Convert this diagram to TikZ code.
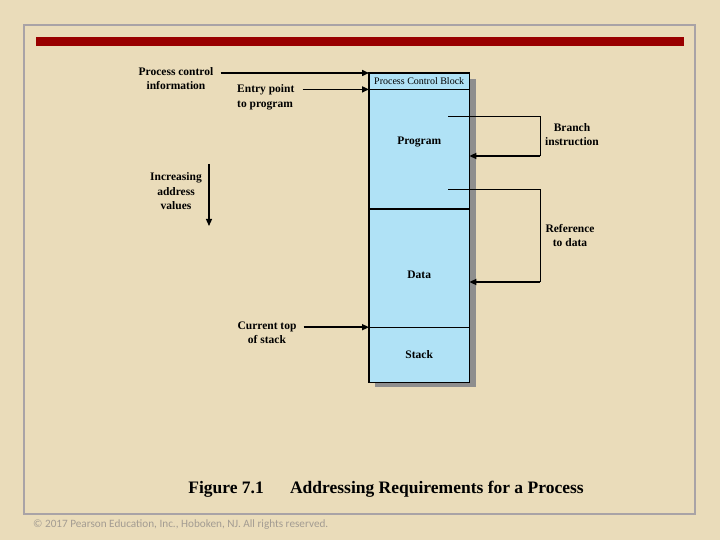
\documentclass[tikz,border=0pt]{standalone}
\usepackage{fontspec}
\setmainfont{Liberation Serif}
\newfontfamily\notefont{Carlito}
\usetikzlibrary{arrows.meta}
\definecolor{paper-bg}{HTML}{EADCBA}
\definecolor{frame-gray}{HTML}{A9A3A6}
\definecolor{title-red}{HTML}{990000}
\definecolor{mem-blue}{HTML}{B0E2F6}
\definecolor{shadow-gray}{HTML}{8E8E8E}
\definecolor{note-gray}{HTML}{A39C92}

\begin{document}
\begin{tikzpicture}[x=1pt, y=-1pt,
        every node/.style={font=\fontsize{11.5}{14.5}\selectfont\bfseries},
        lbl/.style={align=center, inner sep=0pt},
        seg/.style={draw=black, fill=mem-blue, minimum width=100pt,
            inner sep=0pt, anchor=north west},
        ptr/.style={-{Triangle[length=7pt,width=6pt]}, line width=1.5pt},
        ref/.style={-{Triangle[length=7pt,width=6pt]}, line width=1.6pt}]
      \fill[paper-bg] (0,0) rectangle (720,540);
      \useasboundingbox (0,0) rectangle (720,540);
      \draw[frame-gray, line width=1.5pt] (24,25) rectangle (695,514);
      \fill[title-red] (36,37) rectangle (684,46);
      \fill[shadow-gray] (375,79) rectangle (476,387);
      \node[seg, minimum height=16pt, font=\fontsize{10}{12}\selectfont]
            (pcb) at (369,73) {Process Control Block};
      \node[seg, minimum height=119pt, label={[yshift=7.5pt]center:Program}]
            (prog) at (pcb.south west) {};
      \node[seg, minimum height=118pt, label={[yshift=-7pt]center:Data}]
            (data) at (prog.south west) {};
      \node[seg, minimum height=55pt] (stack) at (data.south west) {Stack};
      \draw[line width=1.5pt] (pcb.north west) rectangle (stack.south east);
      \draw[line width=2.5pt] (prog.south west) -- (prog.south east);
      \node[lbl] (pci) at (176,78.5) {Process control\\information};
      \node[lbl, align=left, anchor=west] (entry) at (237,97.5)
            {Entry point\\to program};
      \node[lbl] (cur) at (267,332.5) {Current top\\of stack};
      \node[lbl] (incr) at (176,191.5) {Increasing\\address\\values};
      \node[lbl] (branch) at (572,134.5) {Branch\\instruction};
      \node[lbl] (refd) at (570,235.5) {Reference\\to data};
      \draw[ptr] ([xshift=7pt]pci.east |- pcb.north west) -- (pcb.north west);
      \draw[ptr] ([xshift=8pt]entry.east |- prog.north west) -- (prog.north west);
      \draw[ptr] ([xshift=7pt]cur.east |- stack.north west) -- (stack.north west);
      \coordinate (inc-top) at (209,164);
      \coordinate (inc-bot) at (209,226);
      \draw[ref, line width=1.2pt] (inc-top) -- (inc-bot);
      \coordinate (br-src) at (448,116);
      \coordinate (br-turn) at (540,156);
      \draw[line width=0.8pt] (br-src) -| (br-turn);
      \draw[ref] (br-turn) -- (prog.east |- br-turn);
      \coordinate (rd-src) at (448,189);
      \coordinate (rd-turn) at (540,282);
      \draw[line width=0.8pt] (rd-src) -| (rd-turn);
      \draw[ref] (rd-turn) -- (data.east |- rd-turn);
      \node[font=\fontsize{17.5}{20}\selectfont\bfseries] (cap) at (386,489)
            {Figure 7.1\hspace{1.5em}Addressing Requirements for a Process};
      \node[font=\notefont\fontsize{11.2}{13}\selectfont, text=note-gray,
            anchor=west, inner sep=0pt] (copy) at (33,525)
            {© 2017 Pearson Education, Inc., Hoboken, NJ. All rights reserved.};
    \end{tikzpicture}
\end{document}
